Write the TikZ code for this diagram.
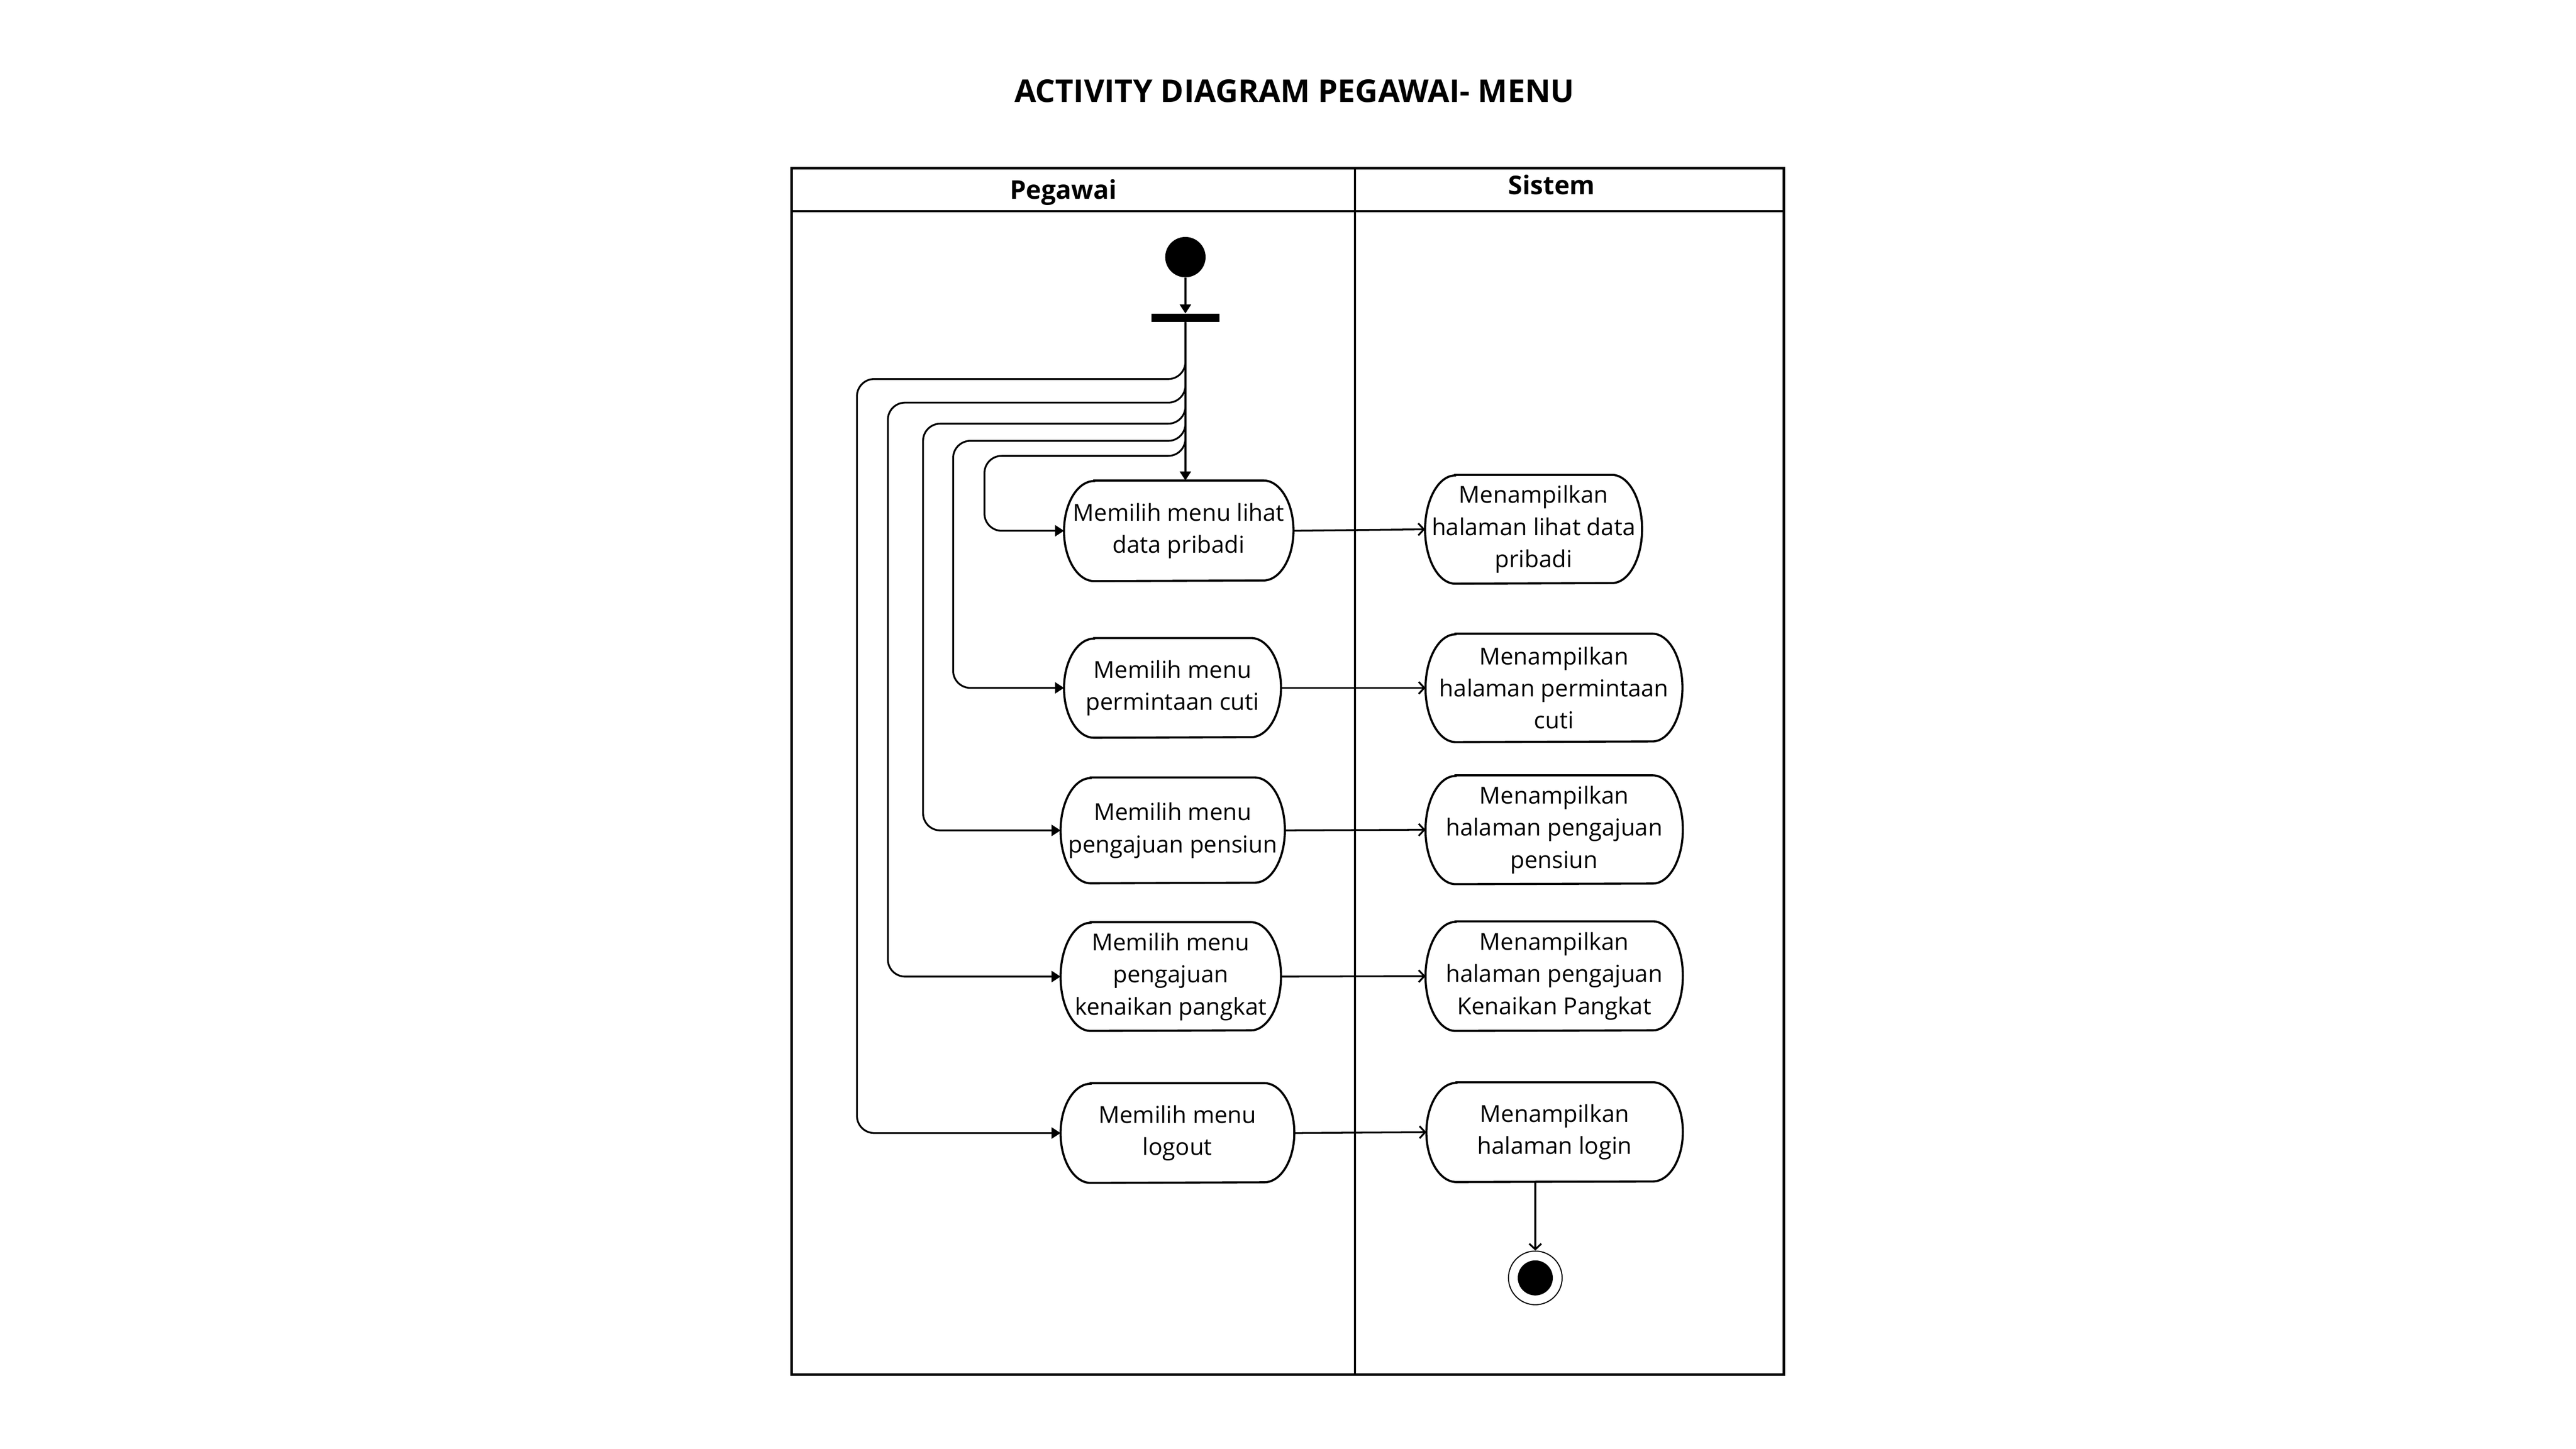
\documentclass[tikz,border=0pt]{standalone}
\usepackage{fontspec}
\setmainfont{Open Sans}
\usetikzlibrary{arrows.meta,positioning}

\begin{document}
\begin{tikzpicture}[
        lane/.style={line width=1.6pt},
        actline/.style={line width=1.4pt},
        flow/.style={line width=1.2pt, rounded corners=0.4cm, -{Triangle[length=0.21cm,width=0.26cm]}},
        reply/.style={line width=1.2pt, -{Straight Barb[length=0.13cm,width=0.28cm,line width=1.2pt]}},
        acttext/.style={font=\fontsize{15.5}{21.3}\selectfont, align=center, inner sep=0pt},
        lanehead/.style={font=\bfseries\fontsize{17.1}{20}\selectfont, anchor=base}]
        \newcommand\actBox[6]{%
          \node[acttext, minimum width=#4cm, minimum height=#5cm] (#1) at (#2,#3) {#6};
          \draw[actline] ([xshift=0.7cm]#1.north west) -- ([xshift=-0.7cm]#1.north east)
            arc[start angle=90, end angle=-90, x radius=0.7cm, y radius=#5cm/2]
            -- ([xshift=0.7cm]#1.south west)
            arc[start angle=270, end angle=90, x radius=0.7cm, y radius=#5cm/2] -- cycle;}
        \fill[white] (0,0) rectangle (60,-33.75);
        \useasboundingbox (0,0) rectangle (60,-33.75);
        \node[font=\bfseries\fontsize{20.8}{24}\selectfont, anchor=base] (judul) at (30.15,-2.38) {ACTIVITY DIAGRAM PEGAWAI- MENU};
        % lanes
        \draw[lane] (18.44,-3.92) rectangle (41.55,-32.02);
        \draw[lane] (18.44,-4.92) -- (41.55,-4.92);
        \draw[lane] (31.56,-3.92) -- (31.56,-32.02);
        \node[lanehead] (pegawai) at (24.77,-4.64) {Pegawai};
        \node[lanehead] (sistem) at (36.14,-4.53) {Sistem};
        % start, fork
        \node[circle, fill, inner sep=0pt, minimum size=0.94cm] (mulai) at (27.61,-5.99) {};
        \node[fill, inner sep=0pt, minimum width=1.58cm, minimum height=0.19cm] (fork) at (27.61,-7.405) {};
        % pegawai
        \actBox{lihat}{27.455}{-12.365}{5.33}{2.33}{Memilih menu lihat\\data pribadi}
        \actBox{cuti}{27.31}{-16.025}{5.04}{2.31}{Memilih menu\\permintaan cuti}
        \actBox{pensiun}{27.315}{-19.345}{5.21}{2.45}{Memilih menu\\pengajuan pensiun}
        \actBox{kenaikan}{27.27}{-22.75}{5.12}{2.52}{Memilih menu\\pengajuan\\kenaikan pangkat}
        \actBox{logout}{27.425}{-26.395}{5.43}{2.31}{Memilih menu\\logout}
        % sistem
        \actBox{tLihat}{35.72}{-12.33}{5.04}{2.52}{Menampilkan\\halaman lihat data\\pribadi}
        \actBox{tCuti}{36.195}{-16.025}{5.97}{2.51}{Menampilkan\\halaman permintaan\\cuti}
        \actBox{tPensiun}{36.2}{-19.33}{5.98}{2.52}{Menampilkan\\halaman pengajuan\\pensiun}
        \actBox{tKenaikan}{36.2}{-22.74}{5.98}{2.54}{Menampilkan\\halaman pengajuan\\Kenaikan Pangkat}
        \actBox{tLogin}{36.21}{-26.375}{5.96}{2.31}{Menampilkan\\halaman login}
        % end
        \node[circle, draw, line width=0.7pt, inner sep=0pt, minimum size=1.25cm] (selesai) at (35.76,-29.77) {};
        \fill (selesai) circle (0.408);
        % flows
        \draw[flow] (mulai) -- (fork);
        \draw[flow] (fork) -- (fork |- lihat.north);
        \foreach \x/\y/\b in {19.96/-8.83/logout, 20.68/-9.38/kenaikan, 21.50/-9.87/pensiun, 22.20/-10.27/cuti, 22.93/-10.62/lihat}
          \draw[flow] (fork.south) |- (\x,\y) |- (\b.west);
        \draw[reply] (lihat.east) -- (tLihat.west);
        \draw[reply] (cuti.east) -- (tCuti.west);
        \draw[reply] (pensiun.east) -- (tPensiun.west);
        \draw[reply] (kenaikan.east) -- (tKenaikan.west);
        \draw[reply] (logout.east) -- (tLogin.west);
        \draw[reply] (tLogin.south -| selesai) -- (selesai);
\end{tikzpicture}
\end{document}
